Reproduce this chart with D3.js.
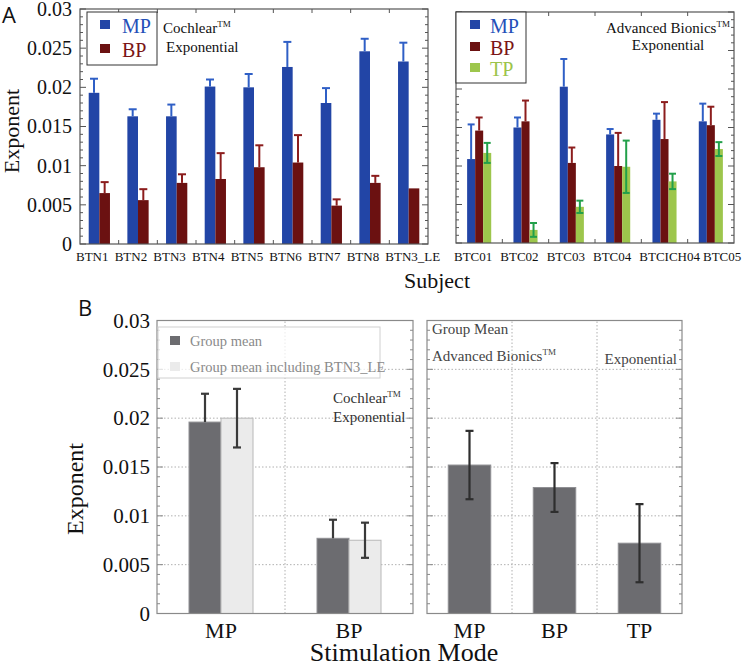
<!DOCTYPE html>
<html><head><meta charset="utf-8">
<script src="https://cdn.jsdelivr.net/npm/d3@7"></script>
<style>
body{margin:0;background:#fff}
svg{display:block}
</style>
</head><body>
<svg id="c" width="742" height="667"></svg>
<script>
// ---------- DATA ----------
const yTicks = [0, 0.005, 0.01, 0.015, 0.02, 0.025, 0.03];
const yTickLabels = ["0", "0.005", "0.01", "0.015", "0.02", "0.025", "0.03"];

const cochlearSubjects = ["BTN1","BTN2","BTN3","BTN4","BTN5","BTN6","BTN7","BTN8","BTN3_LE"];
const cochlearMP    = [0.0193,0.0163,0.0163,0.0201,0.0200,0.0226,0.0180,0.0246,0.0233];
const cochlearMPErr = [0.0018,0.0009,0.0015,0.0009,0.0017,0.0032,0.0019,0.0016,0.0024];
const cochlearBP    = [0.0065,0.0056,0.0078,0.0083,0.0098,0.0104,0.0049,0.0078,0.0071];
const cochlearBPErr = [0.0014,0.0014,0.0011,0.0033,0.0028,0.0035,0.0008,0.0009,0];

const abSubjects = ["BTC01","BTC02","BTC03","BTC04","BTCICH04","BTC05"];
const abMP    = [0.0109,0.0150,0.0203,0.0141,0.0160,0.0158];
const abMPErr = [0.0045,0.0013,0.0036,0.0007,0.0008,0.0023];
const abBP    = [0.0146,0.0158,0.0104,0.0100,0.0135,0.0153];
const abBPErr = [0.0017,0.0027,0.0020,0.0043,0.0048,0.0024];
const abTP    = [0.0117,0.0017,0.0047,0.0099,0.0080,0.0122];
const abTPErr = [0.0013,0.0009,0.0008,0.0034,0.0010,0.0009];

const groupCochlearModes = ["MP","BP"];
const groupCochlearMean    = [0.0196,0.0077];
const groupCochlearMeanErr = [0.0029,0.0019];
const groupCochlearLE      = [0.0200,0.0075];
const groupCochlearLEErr   = [0.0030,0.0018];

const groupABModes = ["MP","BP","TP"];
const groupABMean  = [0.0152,0.0129,0.0072];
const groupABErr   = [0.0035,0.0025,0.0040];

// ---------- STYLE ----------
const SERIF = '"Liberation Serif", Tinos, "Times New Roman", Times, "DejaVu Serif", serif';
const SANS = '"Open Sans", "DejaVu Sans", sans-serif';
const fill = {MP:"#2245a6", BP:"#6b1111", TP:"#9dc64c"};
const errCol = {MP:"#2f5fc6", BP:"#8c1d1d", TP:"#22a04a"};
const minorTicks = d3.range(0, 0.03001, 0.001);

const svg = d3.select("#c");

function T(g, x, y, size, txt, color) {
  return g.append("text").attr("x", x).attr("y", y).attr("font-size", size)
    .attr("fill", color || "#111").style("font-family", SERIF).text(txt);
}
function frame(g, x0, x1, y0, y1, color) {
  g.append("rect").attr("x", x0).attr("y", y1).attr("width", x1 - x0).attr("height", y0 - y1)
    .attr("fill", "none").attr("stroke", color).attr("stroke-width", 1.2);
}
function yMinor(g, y, x, dir, color) {
  g.selectAll(null).data(minorTicks).join("line")
    .attr("x1", x).attr("x2", d => x + dir * (Math.round(d * 1000) % 5 === 0 ? 6 : 3))
    .attr("y1", d => y(d)).attr("y2", d => y(d))
    .attr("stroke", color).attr("stroke-width", 1);
}
function catTicks(g, xs, cats, y0, y1, color) {
  const b = cats.slice(1).map(c => xs(c));
  g.selectAll(null).data(b).join("line").attr("x1", d => d).attr("x2", d => d)
    .attr("y1", y0).attr("y2", y0 - 4).attr("stroke", color);
  g.selectAll(null).data(b).join("line").attr("x1", d => d).attr("x2", d => d)
    .attr("y1", y1).attr("y2", y1 + 4).attr("stroke", color);
}
function errBar(g, cx, ylo, yhi, cap, color, w, lowerCap) {
  g.append("line").attr("x1", cx).attr("x2", cx).attr("y1", ylo).attr("y2", yhi)
    .attr("stroke", color).attr("stroke-width", w);
  g.append("line").attr("x1", cx - cap/2).attr("x2", cx + cap/2).attr("y1", yhi).attr("y2", yhi)
    .attr("stroke", color).attr("stroke-width", w);
  if (lowerCap) g.append("line").attr("x1", cx - cap/2).attr("x2", cx + cap/2).attr("y1", ylo).attr("y2", ylo)
    .attr("stroke", color).attr("stroke-width", w);
}
function yLabels(g, y, x, size) {
  const ax = d3.axisLeft(y).tickValues(yTicks).tickFormat((d, i) => yTickLabels[i]).tickSize(0).tickPadding(0);
  const a = g.append("g").attr("transform", `translate(${x},0)`).call(ax);
  a.attr("font-family", null).attr("font-size", null);
  a.select(".domain").remove();
  a.selectAll("text").attr("font-size", size).attr("fill", "#111").style("font-family", SERIF);
}

// ---------- PANEL A LEFT ----------
const gA = svg.append("g");
const yA1 = d3.scaleLinear().domain([0, 0.03]).range([244, 9]);
const xA1 = d3.scaleBand().domain(cochlearSubjects).range([80, 428]);
const inA1 = d3.scaleBand().domain(["MP","BP"]).range([0, xA1.bandwidth() * 0.55]);
const offA1 = (xA1.bandwidth() - xA1.bandwidth() * 0.55) / 2;
const seriesA1 = [
  {k:"MP", v:cochlearMP, e:cochlearMPErr},
  {k:"BP", v:cochlearBP, e:cochlearBPErr}
];
seriesA1.forEach(s => {
  cochlearSubjects.forEach((c, i) => {
    const x = xA1(c) + offA1 + inA1(s.k);
    gA.append("rect").attr("x", x).attr("y", yA1(s.v[i])).attr("width", inA1.bandwidth())
      .attr("height", yA1(0) - yA1(s.v[i])).attr("fill", fill[s.k]);
    if (s.e[i] > 0) errBar(gA, x + inA1.bandwidth()/2, yA1(s.v[i]), yA1(s.v[i] + s.e[i]), 8, errCol[s.k], 2, false);
  });
});
frame(gA, 80, 428, 244, 9, "#555");
yMinor(gA, yA1, 80, 1, "#555");
yMinor(gA, yA1, 428, -1, "#555");
catTicks(gA, xA1, cochlearSubjects, 244, 9, "#555");
yLabels(gA, yA1, 72, 20);
cochlearSubjects.forEach(d => T(gA, xA1(d) - 4, 261, 13, d));

// legend A left
gA.append("rect").attr("x", 87).attr("y", 12).attr("width", 70).attr("height", 53)
  .attr("fill", "#fff").attr("stroke", "#333").attr("stroke-width", 1);
[["MP", 33, "#2450b8"], ["BP", 57, "#7a1515"]].forEach(([k, yb, c]) => {
  gA.append("rect").attr("x", 100).attr("y", yb - 13).attr("width", 10).attr("height", 9).attr("fill", fill[k]);
  T(gA, 122, yb, 20, k, c);
});
const tc = T(gA, 163, 33, 15, "");
tc.append("tspan").text("Cochlear");
tc.append("tspan").attr("dy", -6).attr("font-size", 9).text("TM");
T(gA, 166, 52, 15, "Exponential");

// ---------- PANEL A RIGHT ----------
const yA2 = d3.scaleLinear().domain([0, 0.03]).range([243, 12]);
const xA2 = d3.scaleBand().domain(abSubjects).range([456, 734]);
const inA2 = d3.scaleBand().domain(["MP","BP","TP"]).range([0, xA2.bandwidth() * 0.52]);
const offA2 = (xA2.bandwidth() - xA2.bandwidth() * 0.52) / 2;
const seriesA2 = [
  {k:"MP", v:abMP, e:abMPErr},
  {k:"BP", v:abBP, e:abBPErr},
  {k:"TP", v:abTP, e:abTPErr}
];
seriesA2.forEach(s => {
  abSubjects.forEach((c, i) => {
    const x = xA2(c) + offA2 + inA2(s.k);
    gA.append("rect").attr("x", x).attr("y", yA2(s.v[i])).attr("width", inA2.bandwidth())
      .attr("height", yA2(0) - yA2(s.v[i])).attr("fill", fill[s.k]);
    const cx = x + inA2.bandwidth()/2;
    if (s.k === "TP") errBar(gA, cx, yA2(s.v[i] - s.e[i]), yA2(s.v[i] + s.e[i]), 7, errCol[s.k], 2, true);
    else errBar(gA, cx, yA2(s.v[i]), yA2(s.v[i] + s.e[i]), 7, errCol[s.k], 2, false);
  });
});
frame(gA, 456, 734, 243, 12, "#555");
yMinor(gA, yA2, 456, 1, "#555");
yMinor(gA, yA2, 734, -1, "#555");
catTicks(gA, xA2, abSubjects, 243, 12, "#555");
// subject labels flow left-to-right, never overlapping
let prevEnd = -Infinity;
abSubjects.forEach(d => {
  const x = Math.max(xA2(d) - 2, prevEnd + 3);
  const t = T(gA, x, 261, 13, d);
  prevEnd = x + t.node().getComputedTextLength();
});

gA.append("rect").attr("x", 456).attr("y", 12).attr("width", 70).attr("height", 71)
  .attr("fill", "#fff").attr("stroke", "#333").attr("stroke-width", 1);
[["MP", 33, "#2450b8"], ["BP", 55, "#7a1515"], ["TP", 76, "#9cc44a"]].forEach(([k, yb, tcol]) => {
  gA.append("rect").attr("x", 470).attr("y", yb - 13).attr("width", 10).attr("height", 9).attr("fill", fill[k]);
  T(gA, 490, yb, 20, k, tcol);
});
const ta = T(gA, 606, 33, 15, "");
ta.append("tspan").text("Advanced Bionics");
ta.append("tspan").attr("dy", -6).attr("font-size", 9).text("TM");
T(gA, 668, 50, 15, "Exponential").attr("text-anchor", "middle");

T(gA, 0, 0, 22, "Exponent").attr("x", null).attr("y", null)
  .attr("transform", "translate(19,131) rotate(-90)").attr("text-anchor", "middle");
T(gA, 437, 288, 22, "Subject").attr("text-anchor", "middle");
gA.append("text").attr("x", 2).attr("y", 23).attr("font-size", 22)
  .style("font-family", SANS).attr("fill", "#111").text("A");

// ---------- PANEL B ----------
const gB = svg.append("g");
const yB = d3.scaleLinear().domain([0, 0.03]).range([613.5, 320.5]);
const xB1 = d3.scaleBand().domain(groupCochlearModes).range([157, 413]);
const xB2 = d3.scaleBand().domain(groupABModes).range([427, 682]);
const gridCol = "#b0b0b0";

function gridB(x0, x1, xs, cats) {
  gB.selectAll(null).data(yTicks.slice(1, -1)).join("line")
    .attr("x1", x0).attr("x2", x1).attr("y1", d => yB(d)).attr("y2", d => yB(d))
    .attr("stroke", gridCol).attr("stroke-dasharray", "1.5,2");
  gB.selectAll(null).data(cats.slice(1)).join("line")
    .attr("x1", d => xs(d)).attr("x2", d => xs(d)).attr("y1", yB(0)).attr("y2", yB(0.03))
    .attr("stroke", gridCol).attr("stroke-dasharray", "1.5,2");
}
gridB(157, 413, xB1, groupCochlearModes);
gridB(427, 682, xB2, groupABModes);

const dark = "#6c6c70", light = "#ebebeb";
const inB1 = d3.scaleBand().domain(["mean","le"]).range([0, xB1.bandwidth() * 0.5]);
const offB1 = xB1.bandwidth() * 0.25;
groupCochlearModes.forEach((m, i) => {
  const xd = xB1(m) + offB1 + inB1("mean"), xl = xB1(m) + offB1 + inB1("le"), w = inB1.bandwidth();
  gB.append("rect").attr("x", xd).attr("y", yB(groupCochlearMean[i])).attr("width", w)
    .attr("height", yB(0) - yB(groupCochlearMean[i])).attr("fill", dark).attr("stroke", "#8f8f93").attr("stroke-width", 1);
  gB.append("rect").attr("x", xl).attr("y", yB(groupCochlearLE[i])).attr("width", w)
    .attr("height", yB(0) - yB(groupCochlearLE[i])).attr("fill", light).attr("stroke", "#b8b8b8").attr("stroke-width", 1);
  errBar(gB, xd + w/2, yB(groupCochlearMean[i]), yB(groupCochlearMean[i] + groupCochlearMeanErr[i]), 8, "#3a3a3a", 2.2, false);
  errBar(gB, xl + w/2, yB(groupCochlearLE[i] - groupCochlearLEErr[i]), yB(groupCochlearLE[i] + groupCochlearLEErr[i]), 8, "#3a3a3a", 2.2, true);
});
const bwB2 = xB2.bandwidth() * 0.5;
groupABModes.forEach((m, i) => {
  const x = xB2(m) + xB2.bandwidth() * 0.25;
  gB.append("rect").attr("x", x).attr("y", yB(groupABMean[i])).attr("width", bwB2)
    .attr("height", yB(0) - yB(groupABMean[i])).attr("fill", dark).attr("stroke", "#8f8f93").attr("stroke-width", 1);
  errBar(gB, x + bwB2/2, yB(groupABMean[i] - groupABErr[i]), yB(groupABMean[i] + groupABErr[i]), 8, "#2e2e2e", 2.2, true);
});

frame(gB, 157, 413, 613.5, 320.5, "#8a8a8a");
frame(gB, 427, 682, 613.5, 320.5, "#8a8a8a");
yMinor(gB, yB, 157, 1, "#8a8a8a");
yMinor(gB, yB, 413, -1, "#8a8a8a");
yMinor(gB, yB, 427, 1, "#8a8a8a");
yMinor(gB, yB, 682, -1, "#8a8a8a");
yLabels(gB, yB, 150, 21);

groupCochlearModes.forEach(d => T(gB, xB1(d) + xB1.bandwidth()/2, 638, 22, d).attr("text-anchor", "middle"));
groupABModes.forEach(d => T(gB, xB2(d) + xB2.bandwidth()/2, 638, 22, d).attr("text-anchor", "middle"));

// legend B
gB.append("rect").attr("x", 158).attr("y", 327).attr("width", 222).attr("height", 51)
  .attr("fill", "#fff").attr("fill-opacity", 0.75).attr("stroke", "#d0d0d0");
gB.append("rect").attr("x", 170).attr("y", 336).attr("width", 10).attr("height", 9).attr("fill", dark);
gB.append("rect").attr("x", 170).attr("y", 362).attr("width", 10).attr("height", 9).attr("fill", light);
T(gB, 190, 346, 14.5, "Group mean", "#8a8a8a");
T(gB, 190, 372, 14.5, "Group mean including BTN3_LE", "#8a8a8a");

const tcb = T(gB, 333, 403, 15, "", "#333");
tcb.append("tspan").text("Cochlear");
tcb.append("tspan").attr("dy", -6).attr("font-size", 9).text("TM");
T(gB, 333, 422, 15, "Exponential", "#333");

T(gB, 432, 334, 15, "Group Mean", "#444");
const tab = T(gB, 432, 361, 15, "", "#444");
tab.append("tspan").text("Advanced Bionics");
tab.append("tspan").attr("dy", -6).attr("font-size", 9).text("TM");
T(gB, 677, 364, 15, "Exponential", "#444").attr("text-anchor", "end");

T(gB, 0, 0, 24, "Exponent").attr("x", null).attr("y", null)
  .attr("transform", "translate(83,489) rotate(-90)").attr("text-anchor", "middle");
T(gB, 404, 661, 26, "Stimulation Mode").attr("text-anchor", "middle");
gB.append("text").attr("x", 78).attr("y", 316).attr("font-size", 22)
  .style("font-family", SANS).attr("fill", "#111").text("B");
</script>
</body></html>
